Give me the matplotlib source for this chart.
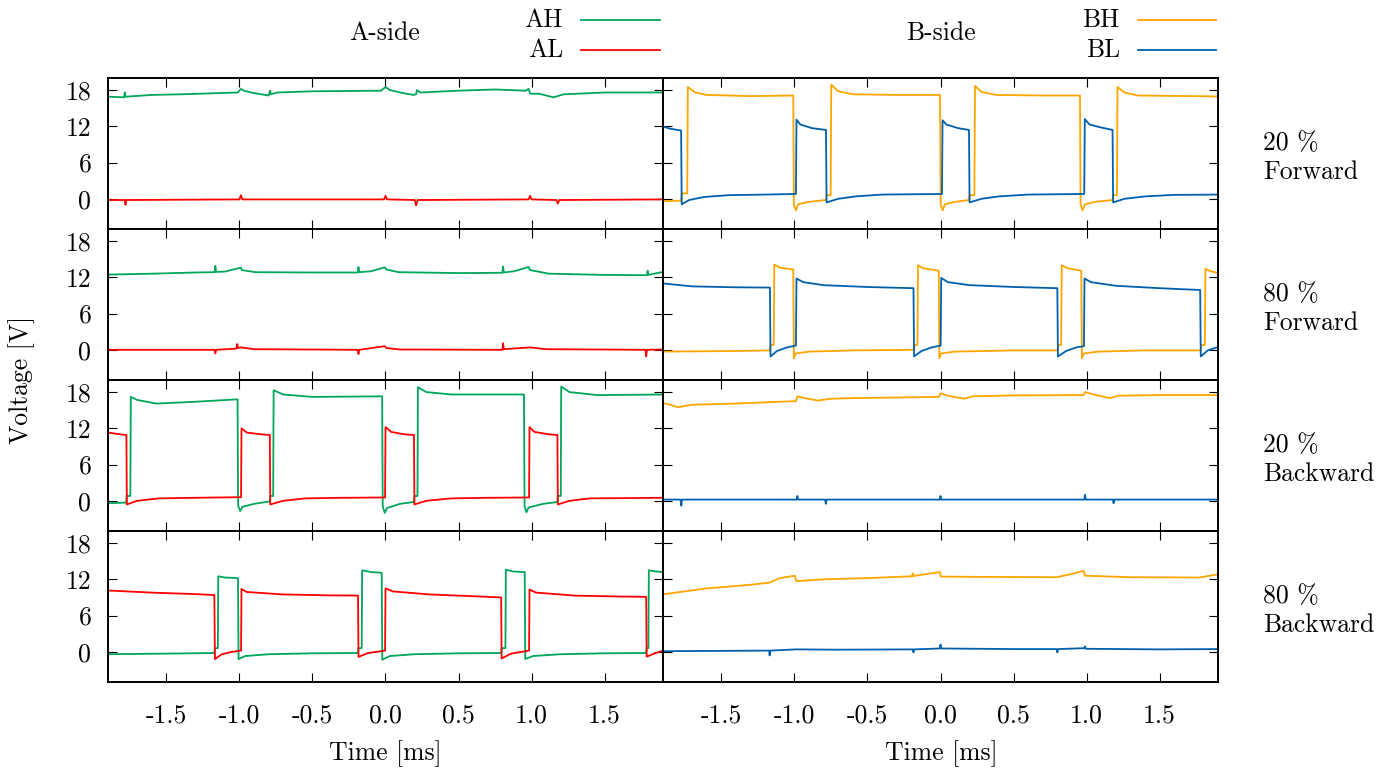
import matplotlib
matplotlib.use("Agg")
import matplotlib.pyplot as plt
from matplotlib.lines import Line2D

# ---- data (time in ms, voltage in V) ----

# 20 % Forward, A-side
fwd20_ah_t = [-1.90, -1.79, -1.785, -1.78, -1.60, -1.40, -1.01, -0.99, -0.97, -0.90, -0.80, -0.79, -0.785, -0.74,
              -0.50, -0.03, 0.0, 0.03, 0.12, 0.19, 0.21, 0.215, 0.24, 0.50, 0.75, 0.96, 0.98, 0.99, 1.05, 1.15,
              1.22, 1.50, 1.90]
fwd20_ah_v = [16.9, 16.8, 17.6, 16.9, 17.2, 17.3, 17.6, 18.2, 17.9, 17.5, 17.1, 17.9, 17.3, 17.6,
              17.8, 17.9, 18.5, 18.0, 17.5, 17.2, 17.3, 18.0, 17.6, 17.9, 18.1, 17.9, 18.2, 17.4, 17.4, 16.8,
              17.3, 17.6, 17.6]
fwd20_al_t = [-1.90, -1.785, -1.78, -1.775, -1.00, -0.99, -0.98, -0.01, 0.0, 0.01, 0.20, 0.21, 0.22, 0.98,
              0.99, 1.0, 1.17, 1.18, 1.19, 1.90]
fwd20_al_v = [-0.2, -0.2, -1.0, -0.2, -0.1, 0.6, -0.1, -0.1, 0.5, -0.1, -0.2, -1.1, -0.2, -0.1,
              0.5, -0.1, -0.2, -0.8, -0.2, -0.1]

# 20 % Forward, B-side
fwd20_bh_t = [-1.905, -1.776, -1.772, -1.734, -1.730, -1.68, -1.60, -1.30, -1.008, -1.004, -0.99, -0.975,
              -0.90, -0.784, -0.780, -0.752, -0.748, -0.70, -0.60, -0.30, -0.003, 0.001, 0.015, 0.03, 0.10,
              0.195, 0.199, 0.232, 0.236, 0.28, 0.38, 0.70, 0.955, 0.959, 0.973, 0.99, 1.06, 1.178, 1.182,
              1.208, 1.212, 1.26, 1.35, 1.905]
fwd20_bh_v = [-0.4, -0.3, 0.9, 0.9, 18.5, 17.6, 17.2, 17.0, 17.1, -1.0, -1.9, -0.9,
              -0.5, -0.2, 0.6, 0.6, 18.9, 17.8, 17.3, 17.2, 17.2, -1.0, -1.9, -0.9, -0.5,
              -0.2, 0.6, 0.6, 18.7, 17.7, 17.2, 17.1, 17.1, -1.0, -1.9, -0.9, -0.5, -0.2, 0.6,
              0.6, 18.5, 17.6, 17.1, 16.95]
fwd20_bl_t = [-1.905, -1.85, -1.776, -1.772, -1.72, -1.62, -1.45, -1.20, -0.990, -0.986, -0.96, -0.88,
              -0.784, -0.780, -0.70, -0.58, -0.40, 0.010, 0.014, 0.04, 0.12, 0.195, 0.199, 0.28, 0.40,
              0.60, 0.984, 0.988, 1.02, 1.10, 1.178, 1.182, 1.26, 1.40, 1.60, 1.905]
fwd20_bl_v = [12.0, 11.6, 11.3, -0.9, -0.2, 0.3, 0.6, 0.7, 0.8, 13.1, 12.3, 11.7,
              11.4, -0.6, 0.0, 0.4, 0.7, 0.8, 13.0, 12.3, 11.7, 11.4, -0.6, 0.0, 0.4,
              0.7, 0.8, 13.2, 12.3, 11.8, 11.4, -0.6, 0.0, 0.4, 0.65, 0.7]

# 80 % Forward, A-side
fwd80_ah_t = [-1.90, -1.60, -1.30, -1.17, -1.165, -1.16, -1.10, -0.99, -0.985, -0.89, -0.50, -0.19, -0.185,
              -0.18, -0.10, -0.005, 0.005, 0.09, 0.50, 0.80, 0.805, 0.81, 0.88, 0.98, 0.99, 1.12, 1.50,
              1.79, 1.795, 1.80, 1.90]
fwd80_ah_v = [12.45, 12.6, 12.8, 12.85, 13.9, 12.9, 12.95, 13.6, 13.2, 12.85, 12.8, 12.8, 13.7,
              12.85, 13.0, 13.65, 13.3, 12.85, 12.7, 12.75, 13.8, 12.8, 13.0, 13.7, 13.2, 12.6, 12.4,
              12.35, 13.1, 12.4, 12.9]
fwd80_al_t = [-1.90, -1.17, -1.165, -1.16, -1.02, -1.015, -1.01, -0.99, -0.90, -0.19, -0.185, -0.18,
              -0.005, 0.005, 0.10, 0.80, 0.805, 0.81, 0.99, 1.10, 1.78, 1.785, 1.79, 1.90]
fwd80_al_v = [0.0, 0.0, -0.6, 0.0, 0.2, 0.95, 0.3, 0.4, 0.1, 0.0, -0.7, 0.0,
              0.6, 0.3, 0.05, 0.0, 1.1, 0.1, 0.4, 0.1, 0.0, -1.1, 0.0, 0.05]

# 80 % Forward, B-side
fwd80_bh_t = [-1.905, -1.40, -1.168, -1.164, -1.142, -1.138, -1.10, -1.008, -1.004, -0.99, -0.90, -0.60,
              -0.181, -0.177, -0.158, -0.154, -0.12, -0.012, -0.008, 0.005, 0.10, 0.50, 0.802, 0.806,
              0.826, 0.830, 0.87, 0.964, 0.968, 0.982, 1.08, 1.40, 1.782, 1.786, 1.810, 1.814, 1.85, 1.905]
fwd80_bh_v = [-0.3, -0.2, -0.1, 0.8, 0.8, 14.1, 13.6, 13.3, -1.4, -0.6, -0.3, -0.1,
              0.0, 0.8, 0.8, 14.0, 13.5, 13.1, -1.4, -0.6, -0.3, -0.1, -0.1, 0.8,
              0.8, 14.0, 13.5, 13.1, -1.4, -0.6, -0.3, -0.1, -0.1, 0.8, 0.8, 13.4, 13.0, 12.7]
fwd80_bl_t = [-1.905, -1.70, -1.40, -1.168, -1.164, -1.12, -1.05, -0.990, -0.986, -0.94, -0.80, -0.50,
              -0.185, -0.181, -0.13, -0.06, 0.001, 0.005, 0.05, 0.20, 0.50, 0.800, 0.804, 0.86, 0.93,
              0.982, 0.986, 1.03, 1.20, 1.50, 1.778, 1.782, 1.83, 1.905]
fwd80_bl_v = [11.0, 10.5, 10.35, 10.3, -1.1, -0.2, 0.4, 0.7, 11.8, 11.2, 10.7, 10.4,
              10.2, -1.1, -0.2, 0.4, 0.7, 11.9, 11.2, 10.7, 10.4, 10.2, -1.1, -0.2, 0.4,
              0.6, 11.8, 11.2, 10.6, 10.2, 9.9, -1.1, -0.1, 0.5]

# 20 % Backward, A-side
bwd20_ah_t = [-1.90, -1.775, -1.772, -1.747, -1.744, -1.70, -1.57, -1.30, -1.013, -1.009, -0.995, -0.98,
              -0.90, -0.792, -0.789, -0.769, -0.766, -0.70, -0.50, -0.023, -0.019, -0.005, 0.01, 0.10,
              0.195, 0.198, 0.219, 0.222, 0.28, 0.45, 0.948, 0.952, 0.965, 0.98, 1.08, 1.177, 1.180,
              1.200, 1.203, 1.26, 1.45, 1.90]
bwd20_ah_v = [-0.4, -0.3, 0.8, 0.8, 17.2, 16.7, 16.1, 16.4, 16.8, -0.8, -1.7, -1.0,
              -0.5, -0.1, 0.8, 0.8, 18.3, 17.6, 17.2, 17.3, -0.9, -2.0, -1.2, -0.5,
              -0.2, 0.8, 0.8, 18.8, 18.0, 17.6, 17.6, -0.9, -1.9, -1.1, -0.5, -0.2, 0.8,
              0.8, 18.9, 18.0, 17.5, 17.6]
bwd20_al_t = [-1.90, -1.80, -1.774, -1.771, -1.70, -1.55, -1.30, -0.989, -0.986, -0.95, -0.85, -0.792,
              -0.789, -0.70, -0.55, -0.30, -0.003, 0.0, 0.04, 0.13, 0.195, 0.198, 0.28, 0.45, 0.70,
              0.983, 0.986, 1.02, 1.12, 1.177, 1.180, 1.26, 1.40, 1.90]
bwd20_al_v = [11.3, 10.95, 10.9, -0.6, 0.0, 0.4, 0.5, 0.6, 12.0, 11.3, 11.0, 10.9,
              -0.6, 0.0, 0.4, 0.5, 0.55, 12.2, 11.4, 11.0, 10.9, -0.6, 0.0, 0.4, 0.5,
              0.55, 12.2, 11.4, 11.0, 10.9, -0.6, 0.0, 0.4, 0.5]

# 20 % Backward, B-side
bwd20_bh_t = [-1.905, -1.85, -1.80, -1.70, -1.40, -1.10, -0.99, -0.98, -0.93, -0.84, -0.75, -0.60, -0.30,
              -0.01, 0.0, 0.05, 0.16, 0.22, 0.50, 0.98, 0.99, 1.05, 1.16, 1.22, 1.50, 1.905]
bwd20_bh_v = [16.2, 15.9, 15.5, 15.9, 16.1, 16.4, 16.5, 17.3, 17.0, 16.6, 16.9, 17.0, 17.1,
              17.2, 17.8, 17.4, 16.9, 17.3, 17.45, 17.5, 18.0, 17.6, 17.0, 17.4, 17.5, 17.5]
bwd20_bl_t = [-1.905, -1.78, -1.775, -1.77, -0.985, -0.98, -0.975, -0.79, -0.785, -0.78, -0.005, 0.0,
              0.005, 0.985, 0.99, 0.995, 1.18, 1.185, 1.19, 1.905]
bwd20_bl_v = [0.2, 0.2, -0.8, 0.2, 0.2, 0.8, 0.2, 0.2, -0.5, 0.2, 0.2, 0.8,
              0.2, 0.2, 1.0, 0.2, 0.2, -0.4, 0.2, 0.2]

# 80 % Backward, A-side
bwd80_ah_t = [-1.90, -1.50, -1.172, -1.168, -1.148, -1.145, -1.10, -1.01, -1.006, -0.96, -0.80, -0.50,
              -0.188, -0.185, -0.163, -0.160, -0.10, -0.026, -0.022, 0.03, 0.20, 0.50, 0.792, 0.795,
              0.821, 0.824, 0.87, 0.953, 0.957, 1.01, 1.20, 1.50, 1.785, 1.788, 1.800, 1.803, 1.85, 1.90]
bwd80_ah_v = [-0.4, -0.3, -0.2, 0.6, 0.6, 12.5, 12.3, 12.2, -1.2, -0.7, -0.4, -0.25,
              -0.2, 0.6, 0.6, 13.5, 13.2, 13.1, -1.3, -0.7, -0.4, -0.25, -0.2, 0.6,
              0.6, 13.6, 13.3, 13.2, -1.2, -0.7, -0.4, -0.25, -0.2, 0.6, 0.6, 13.5, 13.3, 13.2]
bwd80_al_t = [-1.90, -1.60, -1.30, -1.172, -1.168, -1.12, -1.05, -0.989, -0.986, -0.95, -0.70, -0.40,
              -0.188, -0.185, -0.12, -0.003, 0.0, 0.05, 0.30, 0.60, 0.792, 0.795, 0.86, 0.983, 0.986,
              1.03, 1.30, 1.60, 1.785, 1.788, 1.85, 1.90]
bwd80_al_v = [10.15, 9.8, 9.55, 9.4, -1.2, -0.4, 0.0, 0.2, 10.4, 9.9, 9.5, 9.35,
              9.3, -0.85, -0.2, 0.2, 10.5, 10.0, 9.5, 9.2, 9.0, -1.1, -0.3, 0.2, 10.3,
              9.8, 9.3, 9.15, 9.1, -0.8, -0.2, 0.2]

# 80 % Backward, B-side
bwd80_bh_t = [-1.905, -1.60, -1.30, -1.172, -1.10, -0.997, -0.987, -0.80, -0.50, -0.196, -0.19, -0.185,
              -0.004, 0.002, 0.30, 0.796, 0.90, 0.981, 0.988, 1.30, 1.772, 1.905]
bwd80_bh_v = [9.5, 10.5, 11.1, 11.45, 12.2, 12.6, 11.7, 12.0, 12.2, 12.5, 13.0, 12.55,
              13.2, 12.45, 12.4, 12.35, 12.9, 13.4, 12.6, 12.35, 12.3, 12.85]
bwd80_bl_t = [-1.905, -1.173, -1.17, -1.165, -0.99, -0.70, -0.19, -0.185, -0.18, -0.005, 0.0, 0.005,
              0.50, 0.795, 0.80, 0.805, 0.985, 0.99, 0.995, 1.50, 1.905]
bwd80_bl_v = [0.1, 0.2, -0.6, 0.2, 0.4, 0.35, 0.4, -0.1, 0.4, 0.55, 1.2, 0.55,
              0.45, 0.45, -0.1, 0.45, 0.6, 0.9, 0.5, 0.4, 0.45]

row_labels = ["20 %\nForward", "80 %\nForward", "20 %\nBackward", "80 %\nBackward"]
x_ticks = [-1.5, -1.0, -0.5, 0.0, 0.5, 1.0, 1.5]
x_tick_labels = ["-1.5", "-1.0", "-0.5", "0.0", "0.5", "1.0", "1.5"]
y_ticks = [0, 6, 12, 18]

C_AH = '#00a65a'
C_AL = '#ff0000'
C_BH = '#ffa500'
C_BL = '#0060ad'

FS = 18.5
plt.rcParams['font.family'] = 'cmr10'
plt.rcParams['mathtext.fontset'] = 'cm'
plt.rcParams['axes.unicode_minus'] = False
plt.rcParams['font.size'] = FS

W, H = 1392, 771
fig = plt.figure(figsize=(W / 100, H / 100), dpi=100)


def fx(x):
    return x / W


def fy(y):
    return 1 - y / H


col_x = [108, 663]
col_w = 555
row_y = [78, 229, 380, 531]
row_h = 151

panels = [
    [(fwd20_ah_t, fwd20_ah_v, fwd20_al_t, fwd20_al_v), (fwd20_bh_t, fwd20_bh_v, fwd20_bl_t, fwd20_bl_v)],
    [(fwd80_ah_t, fwd80_ah_v, fwd80_al_t, fwd80_al_v), (fwd80_bh_t, fwd80_bh_v, fwd80_bl_t, fwd80_bl_v)],
    [(bwd20_ah_t, bwd20_ah_v, bwd20_al_t, bwd20_al_v), (bwd20_bh_t, bwd20_bh_v, bwd20_bl_t, bwd20_bl_v)],
    [(bwd80_ah_t, bwd80_ah_v, bwd80_al_t, bwd80_al_v), (bwd80_bh_t, bwd80_bh_v, bwd80_bl_t, bwd80_bl_v)],
]
colors = [(C_AH, C_AL), (C_BH, C_BL)]

for r in range(4):
    for c in range(2):
        ax = fig.add_axes([fx(col_x[c]), fy(row_y[r] + row_h), col_w / W, row_h / H])
        th, vh, tl, vl = panels[r][c]
        ax.plot(th, vh, color=colors[c][0], lw=1.3)
        ax.plot(tl, vl, color=colors[c][1], lw=1.3)
        ax.set_xlim(-1.9, 1.9)
        ax.set_ylim(-5, 20)
        ax.set_xticks(x_ticks)
        ax.set_yticks(y_ticks)
        if r == 3:
            ax.set_xticklabels(x_tick_labels)
        ax.tick_params(axis='both', direction='in', top=True, right=True, length=6.5, width=0.8,
                       labelsize=FS, labelbottom=(r == 3), labelleft=(c == 0))
        ax.tick_params(axis='x', pad=16)
        ax.tick_params(axis='y', pad=12)
        for s in ax.spines.values():
            s.set_linewidth(1.4)
    fig.text(fx(1263), fy(row_y[r] + row_h / 2 + 4), row_labels[r], ha='left', va='center',
             linespacing=1.25, fontsize=FS)

# headers and legend entries
fig.text(fx(385), fy(33), "A-side", ha='center', va='center', fontsize=FS)
fig.text(fx(941), fy(33), "B-side", ha='center', va='center', fontsize=FS)
legend = [("AH", C_AH, 563, 581, 660, 20), ("AL", C_AL, 563, 581, 660, 50),
          ("BH", C_BH, 1120, 1138, 1216, 20), ("BL", C_BL, 1120, 1138, 1216, 50)]
for name, col, tx, x0, x1, y in legend:
    fig.text(fx(tx), fy(y), name, ha='right', va='center', fontsize=FS)
    fig.add_artist(Line2D([fx(x0), fx(x1)], [fy(y), fy(y)], color=col, lw=1.3))

fig.text(fx(22), fy(380), "Voltage [V]", rotation=90, ha='center', va='center', fontsize=FS)
fig.text(fx(385), fy(754), "Time [ms]", ha='center', va='center', fontsize=FS)
fig.text(fx(941), fy(754), "Time [ms]", ha='center', va='center', fontsize=FS)

fig.savefig("out.png", dpi=100)
